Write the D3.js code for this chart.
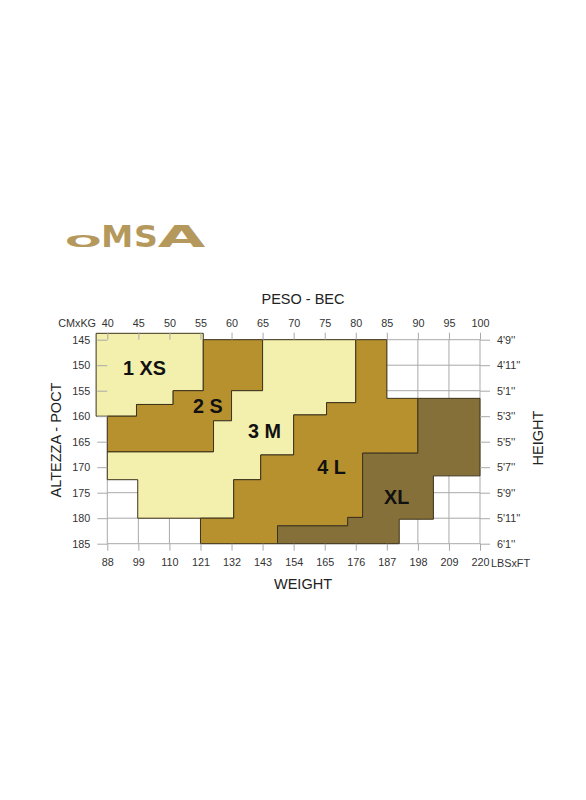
<!DOCTYPE html>
<html>
<head>
<meta charset="utf-8">
<script src="https://cdn.jsdelivr.net/npm/d3@7"></script>
<style>
  html, body { margin: 0; padding: 0; background: #fff; }
  svg { display: block; font-family: "Liberation Sans", Arial, sans-serif; }
</style>
</head>
<body>
<div id="chart"></div>
<script>
// tick labels
const kgTicks = [40, 45, 50, 55, 60, 65, 70, 75, 80, 85, 90, 95, 100];
const lbsTicks = [88, 99, 110, 121, 132, 143, 154, 165, 176, 187, 198, 209, 220];
const cmTicks = [145, 150, 155, 160, 165, 170, 175, 180, 185];
const ftTicks = ["4'9''", "4'11''", "5'1''", "5'3''", "5'5''", "5'7''", "5'9''", "5'11''", "6'1''"];

// size zones, outlines as [kg, cm]
const sizeNames = ["1 XS", "2 S", "3 M", "4 L", "XL"];
const zoneXS = [[38.2,143.75],[55.45,143.75],[55.45,155],[50.6,155],[50.6,157.7],[44.7,157.7],[44.7,160],[38.2,160]];
const zoneS = [[55.45,145],[65,145],[65,155],[60,155],[60,160.9],[57.1,160.9],[57.1,167],[40,167],[40,160],[44.7,160],[44.7,157.7],[50.6,157.7],[50.6,155],[55.45,155]];
const zoneM = [[65,145],[80,145],[80,157.35],[75.3,157.35],[75.3,159.75],[70,159.75],[70,167.6],[64.7,167.6],[64.7,172.45],[60.35,172.45],[60.35,180],[44.9,180],[44.9,172.45],[40,172.45],[40,167],[57.1,167],[57.1,160.9],[60,160.9],[60,155],[65,155]];
const zoneL = [[80,145],[85,145],[85,156.5],[90,156.5],[90,167.25],[81.1,167.25],[81.1,179.85],[78.7,179.85],[78.7,181.5],[67.4,181.5],[67.4,185],[55,185],[55,180],[60.35,180],[60.35,172.45],[64.7,172.45],[64.7,167.6],[70,167.6],[70,159.75],[75.3,159.75],[75.3,157.35],[80,157.35]];
const zoneXL = [[90,156.5],[100,156.5],[100,171.7],[92.5,171.7],[92.5,180.2],[87,180.2],[87,185],[67.4,185],[67.4,181.5],[78.7,181.5],[78.7,179.85],[81.1,179.85],[81.1,167.25],[90,167.25]];
// where each size name sits, [kg, cm] of the text baseline
const labelAt = [[46.0,151.9],[56.2,159.4],[65.3,164.2],[76.1,171.3],[86.6,177.2]];

const zones = [zoneXS, zoneS, zoneM, zoneL, zoneXL];
const zoneColors = ["#f3efad", "#b8912f", "#f3efad", "#b8912f", "#85703a"];

const W = 586, H = 800;
const svg = d3.select("#chart").append("svg")
  .attr("width", W)
  .attr("height", H);

svg.append("rect").attr("width", W).attr("height", H).attr("fill", "#fff");

const x = d3.scaleLinear().domain([40, 100]).range([107.3, 480]);
const xLbs = d3.scaleLinear().domain([88, 220]).range([107.3, 480]);
const y = d3.scaleLinear().domain([145, 185]).range([339.7, 543.7]);
const yFt = d3.scalePoint().domain(ftTicks).range([339.7, 543.7]);

const gridColor = "#a9a9a9";
const tickColor = "#333";
const tickFont = 10.8;

// grid
const grid = svg.append("g").attr("stroke", gridColor).attr("stroke-width", 1);
grid.selectAll(".vg").data(kgTicks).join("line")
  .attr("x1", d => x(d)).attr("x2", d => x(d))
  .attr("y1", y(145)).attr("y2", y(185));
grid.selectAll(".hg").data(cmTicks).join("line")
  .attr("x1", x(40)).attr("x2", x(100))
  .attr("y1", d => y(d)).attr("y2", d => y(d));

// zones
const line = d3.line().x(d => x(d[0])).y(d => y(d[1])).curve(d3.curveLinearClosed);
svg.append("g").selectAll("path").data(zones).join("path")
  .attr("d", line)
  .attr("fill", (d, i) => zoneColors[i])
  .attr("stroke", "#3d331c")
  .attr("stroke-width", 1)
  .attr("stroke-linejoin", "miter");

svg.append("g").selectAll("text").data(sizeNames).join("text")
  .attr("x", (d, i) => x(labelAt[i][0]))
  .attr("y", (d, i) => y(labelAt[i][1]))
  .attr("text-anchor", "middle")
  .attr("font-size", 19.8)
  .attr("font-weight", "bold")
  .attr("fill", "#111")
  .text(d => d);

// axes
function styleAxis(g) {
  g.select(".domain").remove();
  g.selectAll(".tick line").attr("stroke", gridColor);
  g.selectAll(".tick text")
    .attr("fill", tickColor)
    .attr("font-size", tickFont)
    .attr("font-family", "Liberation Sans, Arial, sans-serif");
}

svg.append("g")
  .attr("transform", `translate(0,${y(145)})`)
  .call(d3.axisTop(x).tickValues(kgTicks).tickSize(7).tickPadding(6))
  .call(styleAxis);

svg.append("g")
  .attr("transform", `translate(0,${y(185)})`)
  .call(d3.axisBottom(xLbs).tickValues(lbsTicks).tickSize(7).tickPadding(8))
  .call(styleAxis);

svg.append("g")
  .attr("transform", `translate(${x(40)},0)`)
  .call(d3.axisLeft(y).tickValues(cmTicks).tickSize(10).tickPadding(7))
  .call(styleAxis);

svg.append("g")
  .attr("transform", `translate(${x(100)},0)`)
  .call(d3.axisRight(yFt).tickSize(10).tickPadding(7))
  .call(styleAxis);

// unit labels
svg.append("text")
  .attr("x", 96).attr("y", 326.5)
  .attr("text-anchor", "end")
  .attr("font-size", tickFont).attr("fill", tickColor)
  .text("CMxKG");

svg.append("text")
  .attr("x", 491).attr("y", 566.7)
  .attr("font-size", tickFont).attr("fill", tickColor)
  .text("LBSxFT");

// titles
svg.append("text")
  .attr("x", 303).attr("y", 304)
  .attr("text-anchor", "middle")
  .attr("font-size", 14.5).attr("fill", "#222")
  .text("PESO - BEC");

svg.append("text")
  .attr("x", 303).attr("y", 588.5)
  .attr("text-anchor", "middle")
  .attr("font-size", 14.5).attr("fill", "#222")
  .text("WEIGHT");

svg.append("text")
  .attr("transform", "translate(61,440) rotate(-90)")
  .attr("text-anchor", "middle")
  .attr("font-size", 14.5).attr("fill", "#222")
  .text("ALTEZZA - POCT");

svg.append("text")
  .attr("transform", "translate(543,438) rotate(-90)")
  .attr("text-anchor", "middle")
  .attr("font-size", 14.5).attr("fill", "#222")
  .text("HEIGHT");

// logo: each letter stretched into its box (left, top, right, baseline)
const logoLetters = ["O", "M", "S", "A"];
const logoBoxes = [[66.7, 235, 100, 246.7], [102.7, 225, 131.7, 246.7], [135, 225, 156.7, 246.7], [160, 225, 203.3, 246.7]];
const capH = 0.729;
const logo = svg.append("g").attr("fill", "#b5985c");
logoLetters.forEach((ch, i) => {
  const [x0, y0, x1, y1] = logoBoxes[i];
  const w = x1 - x0, h = y1 - y0;
  const fs = 21.7 / capH;
  const sy = h / 21.7;
  logo.append("text")
    .attr("transform", `translate(0,${y1}) scale(1,${sy})`)
    .attr("x", x0 - w * 0.05)
    .attr("y", 0)
    .attr("font-family", "DejaVu Sans, sans-serif")
    .attr("font-weight", "bold")
    .attr("font-size", fs)
    .attr("textLength", w * 1.1)
    .attr("lengthAdjust", "spacingAndGlyphs")
    .text(ch);
});
</script>
</body>
</html>
